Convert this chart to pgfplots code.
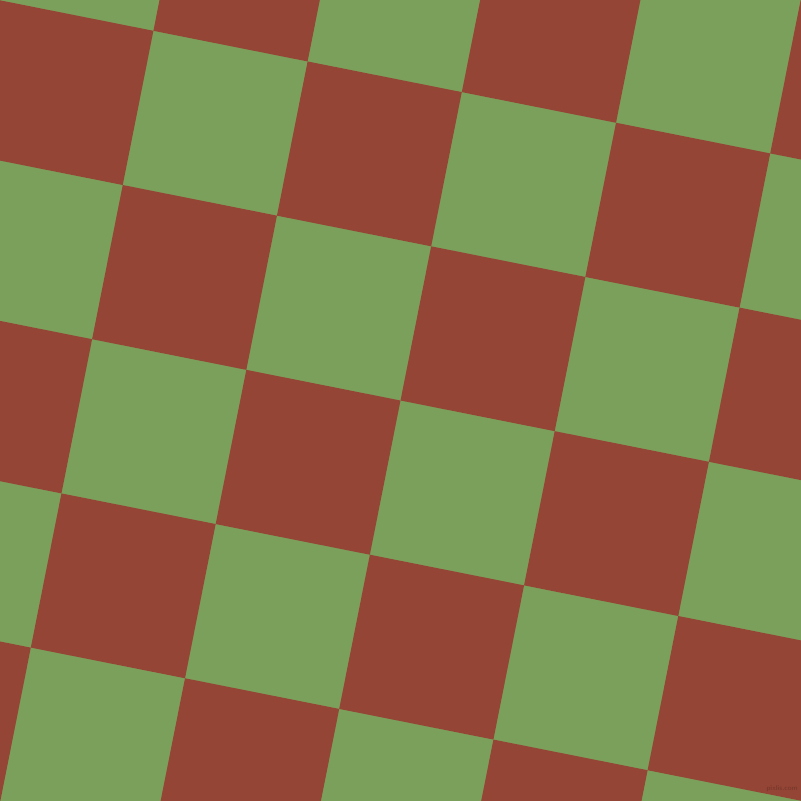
\documentclass[border=0pt]{standalone}
\usepackage{pgfplots}
\pgfplotsset{compat=1.18}
\definecolor{chestnut}{HTML}{954535}
\definecolor{asparagus}{HTML}{7BA05B}
\definecolor{wmark}{HTML}{7A3A2E}
\begin{document}
\begin{tikzpicture}
\begin{axis}[
    width=801pt, height=801pt, scale only axis,
    hide axis,
    xmin=0, xmax=801, ymin=0, ymax=801,
    y dir=reverse,
    clip bounding box=upper bound,
    sq/.style={draw=none, fill=chestnut, mark=none},
]
% background squares
\addplot[draw=none, fill=asparagus, mark=none] coordinates {(0,0) (801,0) (801,801) (0,801)};
% red squares, corners in pixel coordinates (row i, column j of the tilted grid)
\addplot[sq] coordinates {(-0.8,0.15) (153.4,30.8) (122.75,185.0) (-31.45,154.35)};
\addplot[sq] coordinates {(-62.1,308.55) (92.1,339.2) (61.45,493.4) (-92.75,462.75)};
\addplot[sq] coordinates {(-123.4,616.95) (30.8,647.6) (0.15,801.8) (-154.05,771.15)};
\addplot[sq] coordinates {(184.05,-123.4) (338.25,-92.75) (307.6,61.45) (153.4,30.8)};
\addplot[sq] coordinates {(122.75,185.0) (276.95,215.65) (246.3,369.85) (92.1,339.2)};
\addplot[sq] coordinates {(61.45,493.4) (215.65,524.05) (185.0,678.25) (30.8,647.6)};
\addplot[sq] coordinates {(307.6,61.45) (461.8,92.1) (431.15,246.3) (276.95,215.65)};
\addplot[sq] coordinates {(246.3,369.85) (400.5,400.5) (369.85,554.7) (215.65,524.05)};
\addplot[sq] coordinates {(185.0,678.25) (339.2,708.9) (308.55,863.1) (154.35,832.45)};
\addplot[sq] coordinates {(492.45,-62.1) (646.65,-31.45) (616.0,122.75) (461.8,92.1)};
\addplot[sq] coordinates {(431.15,246.3) (585.35,276.95) (554.7,431.15) (400.5,400.5)};
\addplot[sq] coordinates {(369.85,554.7) (524.05,585.35) (493.4,739.55) (339.2,708.9)};
\addplot[sq] coordinates {(616.0,122.75) (770.2,153.4) (739.55,307.6) (585.35,276.95)};
\addplot[sq] coordinates {(554.7,431.15) (708.9,461.8) (678.25,616.0) (524.05,585.35)};
\addplot[sq] coordinates {(493.4,739.55) (647.6,770.2) (616.95,924.4) (462.75,893.75)};
\addplot[sq] coordinates {(800.85,-0.8) (955.05,29.85) (924.4,184.05) (770.2,153.4)};
\addplot[sq] coordinates {(739.55,307.6) (893.75,338.25) (863.1,492.45) (708.9,461.8)};
\addplot[sq] coordinates {(678.25,616.0) (832.45,646.65) (801.8,800.85) (647.6,770.2)};
\node[anchor=south east, inner sep=0pt, text=wmark, font=\sffamily\bfseries\fontsize{7}{8}\selectfont]
    at (axis cs:798,792) {pixlis.com};
\end{axis}
\end{tikzpicture}
\end{document}
